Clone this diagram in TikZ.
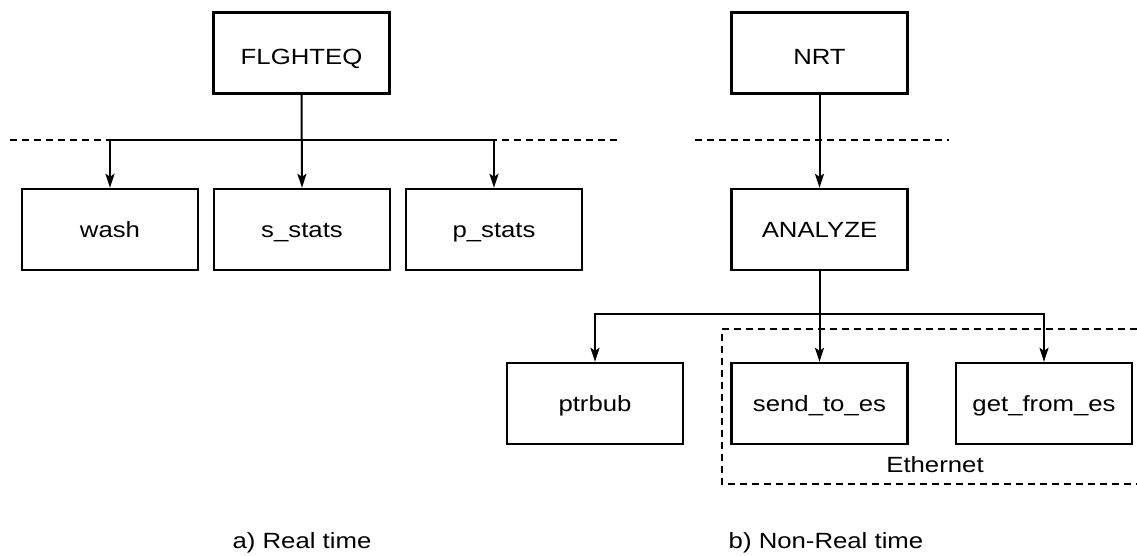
\documentclass[tikz,border=0pt]{standalone}
\usepackage{fontspec}
\setmainfont{Liberation Sans}[FakeStretch=1.17]
\usetikzlibrary{arrows.meta}
\begin{document}
\begin{tikzpicture}[x=1pt,y=-1pt,
  boxstyle/.style={draw,line width=2.4pt,minimum width=176pt,minimum height=81pt,inner sep=0pt,text height=15.7pt,text depth=0pt,font=\fontsize{22}{26}\selectfont},
  toprow/.style={text height=24pt,text depth=0pt},
  arr/.style={line width=2pt,-{Stealth[length=14pt,width=9pt,inset=3pt]}},
  dashline/.style={line width=1.9pt,dash pattern=on 7pt off 5pt},
  caption/.style={font=\fontsize{22}{26}\selectfont,inner sep=0pt}]
\useasboundingbox (0,0) rectangle (1137,556);
% separators
\draw[dashline] (10,140) -- (617,140);
\draw[dashline] (695,140) -- (949,140);
\draw[dashline] (1137,329) -- (722,329) -- (722,484) -- (1137,484);
% real time
\node[boxstyle,toprow] (F) at (301.5,53) {FLGHTEQ};
\node[boxstyle] (wash) at (110,229.5) {wash};
\node[boxstyle] (sst) at (302,229.5) {s\_stats};
\node[boxstyle] (pst) at (494,229.5) {p\_stats};
\coordinate (j1) at (302,140);
\draw[arr] (F.south) -- (sst.north);
\draw[arr] (j1) -| (wash.north);
\draw[arr] (j1) -| (pst.north);
% non-real time
\node[boxstyle,toprow] (N) at (819.5,53) {NRT};
\node[boxstyle] (A) at (819.5,229.5) {ANALYZE};
\node[boxstyle] (pb) at (595,403.5) {ptrbub};
\node[boxstyle] (se) at (819.5,403.5) {send\_to\_es};
\node[boxstyle] (ge) at (1044,403.5) {get\_from\_es};
\draw[arr] (N.south) -- (A.north);
\coordinate (j2) at (819.5,314);
\draw[arr] (A.south) -- (se.north);
\draw[arr] (j2) -| (pb.north);
\draw[arr] (j2) -| (ge.north);
\node[caption] (eth) at (935,465) {Ethernet};
% captions
\node[caption] (ca) at (302,543) {a) Real time};
\node[caption] (cb) at (826,543) {b) Non-Real time};
\end{tikzpicture}
\end{document}
